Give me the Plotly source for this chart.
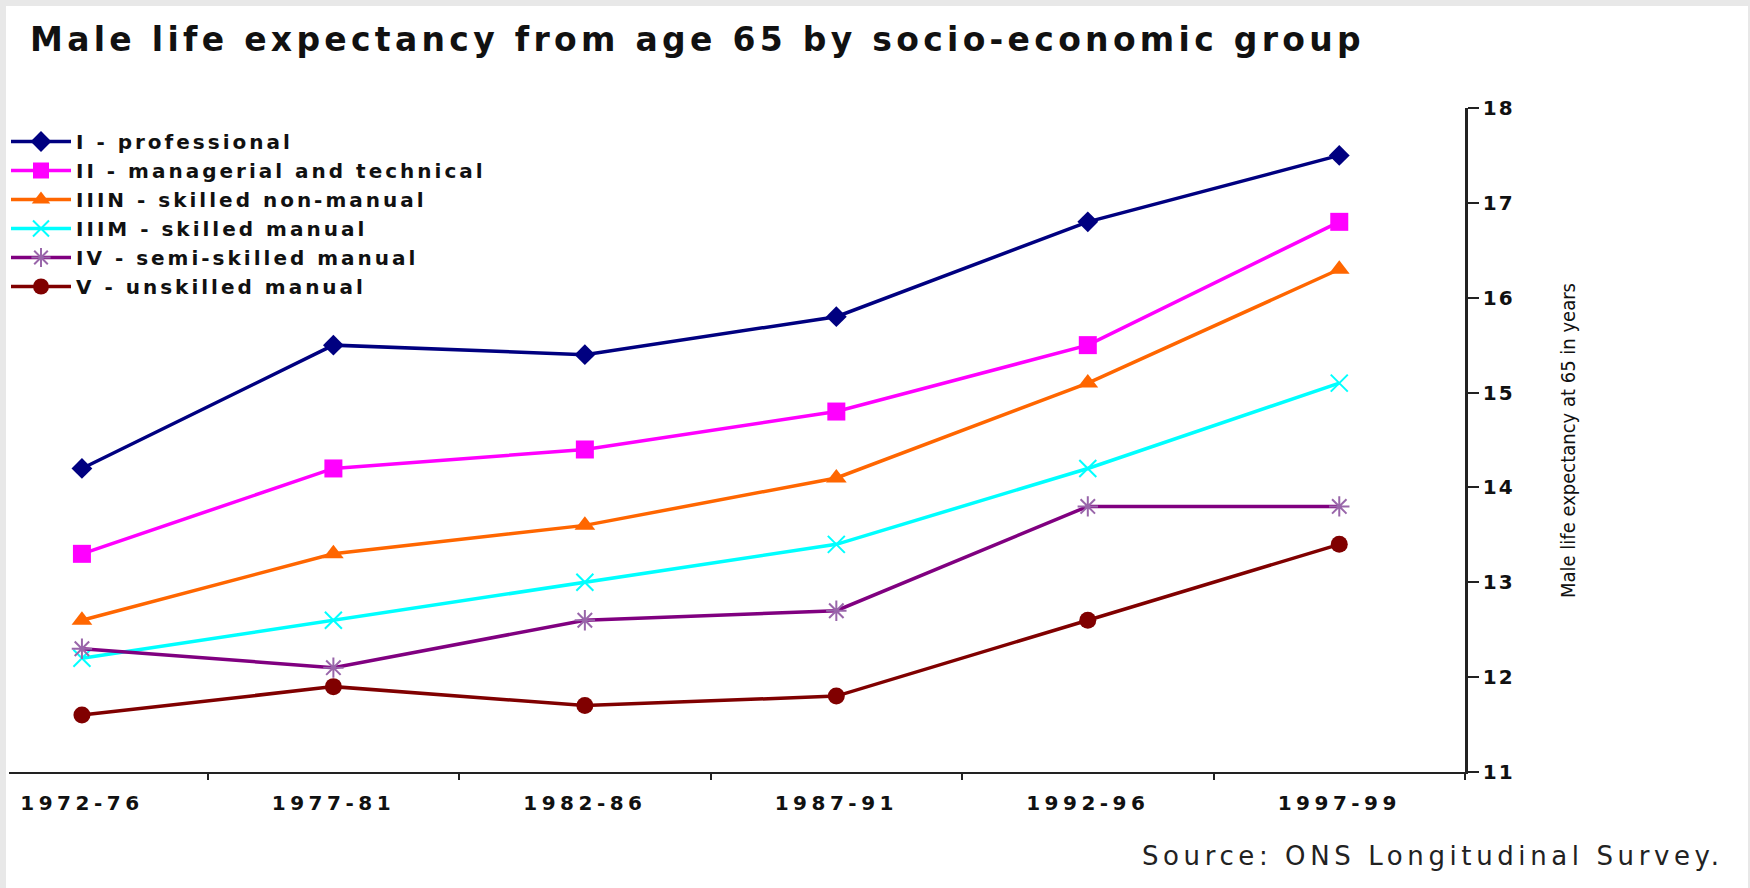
import plotly.graph_objects as go

# Periods on the x axis
periods = ["1972-76", "1977-81", "1982-86", "1987-91", "1992-96", "1997-99"]

# Male life expectancy at 65, by socio-economic group (years)
professional = [14.2, 15.5, 15.4, 15.8, 16.8, 17.5]
managerial = [13.3, 14.2, 14.4, 14.8, 15.5, 16.8]
skilled_non_manual = [12.6, 13.3, 13.6, 14.1, 15.1, 16.3]
skilled_manual = [12.2, 12.6, 13.0, 13.4, 14.2, 15.1]
semi_skilled = [12.3, 12.1, 12.6, 12.7, 13.8, 13.8]
unskilled = [11.6, 11.9, 11.7, 11.8, 12.6, 13.4]

group_names = [
    "I - professional",
    "II - managerial and technical",
    "IIIN - skilled non-manual",
    "IIIM - skilled manual",
    "IV - semi-skilled manual",
    "V - unskilled manual",
]

y_ticks = [11, 12, 13, 14, 15, 16, 17, 18]

series = [professional, managerial, skilled_non_manual, skilled_manual, semi_skilled, unskilled]
styles = [
    dict(color="#000080", mcolor="#000080", symbol="diamond", size=16, open=False),
    dict(color="#FF00FF", mcolor="#FF00FF", symbol="square", size=18, open=False),
    dict(color="#FF6600", mcolor="#FF6600", symbol="triangle-up", size=18, open=False),
    dict(color="#00FFFF", mcolor="#00FFFF", symbol="x-thin-open", size=17, open=True),
    dict(color="#800080", mcolor="#9966AA", symbol="asterisk-open", size=17, open=True),
    dict(color="#800000", mcolor="#800000", symbol="circle", size=17, open=False),
]

FONT = "DejaVu Sans"

fig = go.Figure()
for name, vals, st in zip(group_names, series, styles):
    marker = dict(symbol=st["symbol"], size=st["size"], color=st["mcolor"])
    marker["line"] = dict(width=2 if st["open"] else 0, color=st["mcolor"])
    fig.add_trace(go.Scatter(
        x=periods, y=vals, name=name, mode="lines+markers",
        line=dict(color=st["color"], width=3.5),
        marker=marker,
    ))

# Plot area in pixels: left 9, right 1465, top 108, bottom 772
L, R, T, B = 9, 1465, 108, 772
W, H = 1750, 888
pw, ph = R - L, B - T


def px_x(x):
    return (x - L) / pw


def px_y(y):
    return (B - y) / ph


fig.update_layout(
    width=W, height=H,
    margin=dict(l=L, r=W - R, t=T, b=H - B, autoexpand=False),
    paper_bgcolor="#E8E8E8",
    plot_bgcolor="white",
    font=dict(family=FONT, color="#111111"),
    showlegend=True,
    legend=dict(
        x=px_x(6), y=px_y(122), xanchor="left", yanchor="top",
        bgcolor="rgba(0,0,0,0)", itemwidth=60,
        font=dict(family=FONT, size=20, color="#111111", weight="bold"),
        tracegroupgap=0,
    ),
    xaxis=dict(
        type="category", range=[-0.29, 5.5],
        showline=True, linecolor="#222222", linewidth=2,
        ticks="outside", ticklen=6, tickwidth=2, tickcolor="#222222",
        tickson="boundaries", showgrid=False, zeroline=False,
        ticklabelstandoff=12,
        tickfont=dict(family=FONT, size=20, color="#111111", weight="bold"),
    ),
    yaxis=dict(
        side="right", range=[11, 18], tickvals=y_ticks,
        showline=True, linecolor="#222222", linewidth=2.5,
        ticks="outside", ticklen=11, tickwidth=2, tickcolor="#222222",
        showgrid=False, zeroline=False,
        tickfont=dict(family=FONT, size=20, color="#111111", weight="bold"),
    ),
    shapes=[
        # white panel behind the chart
        dict(type="rect", xref="paper", yref="paper", layer="below",
             x0=px_x(6), x1=px_x(1748), y0=px_y(H + 5), y1=px_y(6),
             fillcolor="white", line=dict(width=0)),
    ],
    annotations=[
        dict(text="Male life expectancy from age 65 by socio-economic group",
             xref="paper", yref="paper", x=px_x(28), y=px_y(39),
             xanchor="left", yanchor="middle", align="left", showarrow=False,
             font=dict(family=FONT, size=33, color="#111111", weight="bold")),
        dict(text="Male life expectancy at 65 in years",
             xref="paper", yref="paper", x=px_x(1568), y=px_y(441),
             xanchor="center", yanchor="middle", showarrow=False, textangle=-90,
             font=dict(family="DejaVu Sans Condensed, Liberation Sans Narrow, DejaVu Sans",
                       size=20, color="#111111")),
        dict(text="Source: ONS Longitudinal Survey.",
             xref="paper", yref="paper", x=px_x(1140), y=px_y(856),
             xanchor="left", yanchor="middle", align="left", showarrow=False,
             font=dict(family=FONT, size=26, color="#222222")),
    ],
)

# Wider tracking for the chart's text, applied after each redraw
tracking_js = """
var gd = document.getElementById('{plot_id}');
function applyTracking() {
  var setSp = function (sel, px) {
    gd.querySelectorAll(sel).forEach(function (t) { t.style.letterSpacing = px + 'px'; });
  };
  setSp('.legendtext', 3);
  setSp('.xtick text', 4.5);
  setSp('.ytick text', 2);
  gd.querySelectorAll('.annotation-text').forEach(function (t) {
    var s = t.textContent;
    if (s.indexOf('socio-economic') >= 0) { t.style.letterSpacing = '4.3px'; }
    else if (s.indexOf('Source') >= 0) { t.style.letterSpacing = '4.6px'; }
  });
  gd.querySelectorAll('.legend .scrollbox').forEach(function (n) {
    n.removeAttribute('clip-path');
  });
}
applyTracking();
gd.on('plotly_afterplot', applyTracking);
"""

fig.write_html("out.html", post_script=tracking_js)
